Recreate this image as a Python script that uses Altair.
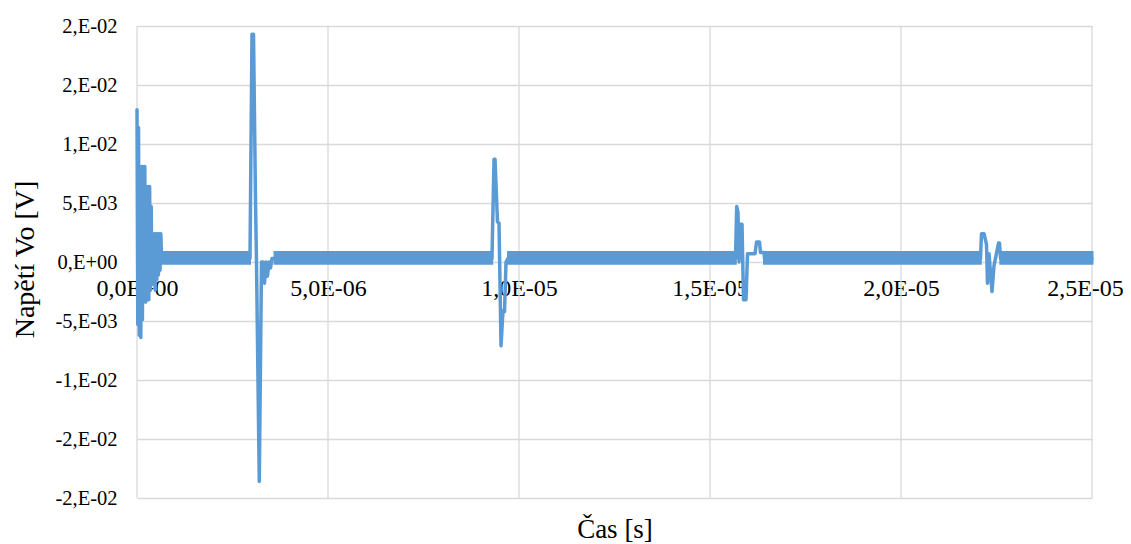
import altair as alt
import pandas as pd

# ---- axis ticks / labels (Excel style) ----
x_tick_values = [0.0, 5e-6, 1e-5, 1.5e-5, 2e-5, 2.5e-5]
x_tick_labels = ["0,0E+00", "5,0E-06", "1,0E-05", "1,5E-05", "2,0E-05", "2,5E-05"]
y_tick_values = [0.02, 0.015, 0.01, 0.005, 0.0, -0.005, -0.01, -0.015, -0.02]
y_tick_labels = ["2,E-02", "2,E-02", "1,E-02", "5,E-03", "0,E+00",
                 "-5,E-03", "-1,E-02", "-2,E-02", "-2,E-02"]

# ---- signal: transient segments (time [s], voltage [V]) ----
t_burst = [0.0, 2.09e-8, 3.93e-8, 6.02e-8, 7.85e-8, 9.95e-8, 1.204e-7, 1.414e-7,
           1.623e-7, 1.832e-7, 2.042e-7, 2.251e-7, 2.461e-7, 2.670e-7, 2.880e-7,
           3.089e-7, 3.298e-7, 3.508e-7, 3.717e-7, 3.927e-7, 4.136e-7, 4.346e-7,
           4.555e-7, 4.764e-7, 4.974e-7, 5.183e-7, 5.393e-7, 5.602e-7, 5.812e-7,
           6.021e-7, 6.230e-7, 6.440e-7]
v_burst = [0.0129, -0.0053, 0.0114, -0.0062, 0.0081, -0.0064, 0.0081, -0.0049,
           0.0081, -0.0032, 0.0081, -0.0034, 0.0064, -0.0032, 0.0064, -0.0032,
           0.0064, -0.0024, 0.0047, -0.0019, 0.0024, -0.0015, 0.0024, -0.0024,
           0.0024, -0.0015, 0.0024, -0.0011, 0.0024, -0.0007, 0.0024, 0.0003]

t_spike1 = [2.945e-6, 2.958e-6, 3.010e-6, 3.050e-6, 3.102e-6, 3.128e-6, 3.201e-6,
            3.259e-6, 3.298e-6, 3.338e-6, 3.377e-6, 3.416e-6, 3.455e-6, 3.495e-6,
            3.534e-6, 3.613e-6]
v_spike1 = [0.0003, 0.0003, 0.0193, 0.0193, 0.0053, 0.0, -0.0186,
            0.0, 0.0, -0.0018, 0.0, -0.0012, 0.0, -0.0005, 0.0003, 0.0003]

t_spike2 = [9.285e-6, 9.293e-6, 9.346e-6, 9.372e-6, 9.437e-6, 9.477e-6, 9.529e-6,
            9.581e-6, 9.621e-6, 9.660e-6, 9.712e-6, 9.725e-6]
v_spike2 = [0.0003, 0.0003, 0.0087, 0.0087, 0.0034, 0.0033, -0.0071,
            -0.0041, -0.0042, 0.0, 0.0003, 0.0003]

t_spike3 = [1.5662e-5, 1.5668e-5, 1.5699e-5, 1.5733e-5, 1.5760e-5, 1.5799e-5,
            1.5838e-5, 1.5877e-5, 1.5943e-5, 1.5982e-5, 1.6178e-5, 1.6218e-5,
            1.6296e-5, 1.6322e-5, 1.6414e-5, 1.6427e-5]
v_spike3 = [0.0003, 0.0003, 0.0047, 0.0042, 0.0, 0.0032, 0.0032, -0.0032,
            -0.0032, 0.0007, 0.0007, 0.0017, 0.0017, 0.0008, 0.0008, 0.0003]

t_spike4 = [2.2076e-5, 2.2081e-5, 2.2107e-5, 2.2173e-5, 2.2238e-5, 2.2264e-5,
            2.2304e-5, 2.2382e-5, 2.2435e-5, 2.2553e-5, 2.2579e-5, 2.2605e-5,
            2.2613e-5, 2.5e-5]
v_spike4 = [0.0003, 0.0003, 0.0024, 0.0024, 0.0015, -0.0018, 0.0007, -0.0025,
            -0.0003, 0.0016, 0.0016, 0.0003, 0.0003, 0.0003]

# ---- fast switching baseline: envelope of each quiet stretch ----
band_start = [6.44e-7, 3.613e-6, 9.725e-6, 1.6427e-5, 2.2613e-5]
band_end = [2.945e-6, 9.285e-6, 1.5662e-5, 2.2076e-5, 2.5e-5]
band_low = [-0.0001, -0.0001, -0.0001, -0.0001, -0.0001]
band_high = [0.0008, 0.0008, 0.0008, 0.0008, 0.0008]

BLUE = "#5B9BD5"
GRID = "#D9D9D9"
FONT = "Liberation Serif"

line_df = pd.DataFrame({
    "t": t_burst + t_spike1 + t_spike2 + t_spike3 + t_spike4,
    "v": v_burst + v_spike1 + v_spike2 + v_spike3 + v_spike4,
})
line_df["i"] = range(len(line_df))

band_rows = []
for k, (a, b, lo, hi) in enumerate(zip(band_start, band_end, band_low, band_high)):
    band_rows.append({"t": a, "lo": lo, "hi": hi, "seg": k})
    band_rows.append({"t": b, "lo": lo, "hi": hi, "seg": k})
band_df = pd.DataFrame(band_rows)

grid_df = pd.DataFrame({"t": x_tick_values})


def label_expr(values, labels):
    parts = [f"abs(datum.value - ({v})) < 1e-12 ? '{l}'" for v, l in zip(values, labels)]
    return " : ".join(parts) + " : ''"


x_scale = alt.Scale(domain=[0, 2.5e-5], nice=False, zero=False)
y_scale = alt.Scale(domain=[-0.02, 0.02], nice=False, zero=False)

x_axis = alt.Axis(
    values=x_tick_values, labelExpr=label_expr(x_tick_values, x_tick_labels),
    grid=False, domain=False, ticks=False, offset=-236,
    labelFont=FONT, labelFontSize=24, labelColor="black", labelPadding=14,
    labelFlush=False, labelOverlap=False,
    labelOffset={"expr": f"datum.value >= {x_tick_values[-1]} ? -7 : 0"},
    title="Čas [s]", titleFont=FONT, titleFontSize=27, titleFontWeight="normal",
    titleColor="black", titleBaseline="alphabetic", titleY=275,
)
y_axis = alt.Axis(
    values=y_tick_values, labelExpr=label_expr(y_tick_values, y_tick_labels),
    grid=True, gridColor=GRID, gridWidth=1.3, domain=False, ticks=False,
    labelFont=FONT, labelFontSize=20.5, labelColor="black", labelPadding=20,
    labelFlush=False, labelOverlap=False,
    title="Napětí Vo [V]", titleFont=FONT, titleFontSize=28, titleFontWeight="normal",
    titleColor="black", titleX=-112, titleY=233, titleAlign="center",
    titleBaseline="middle", titleAngle=270,
)

grid = alt.Chart(grid_df).mark_rule(color=GRID, strokeWidth=1.3).encode(
    x=alt.X("t:Q", scale=x_scale, axis=x_axis)
)

band = alt.Chart(band_df).mark_area(
    color=BLUE, stroke=BLUE, strokeWidth=3, opacity=1
).encode(
    x=alt.X("t:Q", scale=x_scale, axis=x_axis),
    y=alt.Y("lo:Q", scale=y_scale, axis=y_axis),
    y2="hi:Q",
    detail="seg:N",
)

line = alt.Chart(line_df).mark_line(
    color=BLUE, strokeWidth=3.5, strokeJoin="round", strokeCap="round"
).encode(
    x=alt.X("t:Q", scale=x_scale, axis=x_axis),
    y=alt.Y("v:Q", scale=y_scale, axis=y_axis),
    order="i:Q",
)

chart = alt.layer(grid, band, line).properties(
    width=955, height=472,
    autosize=alt.AutoSizeParams(type="none"),
    padding={"left": 129, "top": 18, "right": 31, "bottom": 46},
    background="white",
).configure_view(stroke=None)

chart.save("out.html", embed_options={"renderer": "svg", "actions": False})
